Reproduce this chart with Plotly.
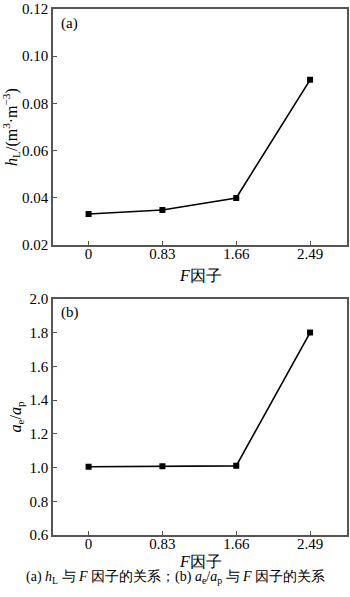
import plotly.graph_objects as go

f_factor = [0, 0.83, 1.66, 2.49]
f_ticks = ["0", "0.83", "1.66", "2.49"]
h_L = [0.0332, 0.0349, 0.0400, 0.0900]
ae_ap = [1.005, 1.008, 1.010, 1.800]

SERIF = "Liberation Serif"
CJK = "Liberation Serif"
FRAME = "#555555"
X_RANGE = [-0.4, 2.905]
PLOT_H = 530.0

fig = go.Figure()
fig.add_trace(go.Scatter(x=f_factor, y=h_L, mode="lines+markers",
                         line=dict(color="black", width=1.6),
                         marker=dict(symbol="square", size=6, color="black"),
                         xaxis="x", yaxis="y", showlegend=False))
fig.add_trace(go.Scatter(x=f_factor, y=ae_ap, mode="lines+markers",
                         line=dict(color="black", width=1.6),
                         marker=dict(symbol="square", size=6, color="black"),
                         xaxis="x2", yaxis="y2", showlegend=False))
# invisible carriers so the tick-label axes are drawn
fig.add_trace(go.Scatter(x=f_factor, y=h_L, mode="markers", marker=dict(opacity=0),
                         hoverinfo="skip", xaxis="x3", yaxis="y", showlegend=False))
fig.add_trace(go.Scatter(x=f_factor, y=ae_ap, mode="markers", marker=dict(opacity=0),
                         hoverinfo="skip", xaxis="x4", yaxis="y2", showlegend=False))

common_x = dict(range=X_RANGE, tickvals=f_factor, ticktext=f_ticks,
                ticks="inside", ticklen=4, tickcolor=FRAME, tickwidth=1,
                showline=True, linecolor=FRAME, linewidth=1.5, mirror=True,
                showgrid=False, zeroline=False, showticklabels=False)
label_x = dict(range=X_RANGE, tickvals=f_factor, ticktext=f_ticks, ticks="",
               showline=False, showgrid=False, zeroline=False, anchor="free",
               tickfont=dict(family=SERIF, size=15, color="black"))
common_y = dict(ticks="inside", ticklen=4, tickcolor=FRAME, tickwidth=1,
                showline=True, linecolor=FRAME, linewidth=1.5, mirror=True,
                showgrid=False, zeroline=False,
                tickfont=dict(family=SERIF, size=15, color="black"))

fig.update_layout(
    width=350, height=597,
    margin=dict(l=53, r=1, t=5, b=62),
    paper_bgcolor="white", plot_bgcolor="white",
    xaxis=dict(common_x, anchor="y"),
    yaxis=dict(common_y, domain=[0.551, 1.0], range=[0.02, 0.12],
               tickvals=[0.02, 0.04, 0.06, 0.08, 0.10, 0.12],
               ticktext=["0.02", "0.04", "0.06", "0.08", "0.10", "0.12"],
               title=dict(text="<i>h</i><sub>L</sub>/(m<sup>3</sup>·m<sup>−3</sup>)",
                          font=dict(family=SERIF, size=16, color="black"), standoff=4)),
    xaxis2=dict(common_x, anchor="y2"),
    yaxis2=dict(common_y, domain=[0.0, 0.449], range=[0.6, 2.0],
                tickvals=[0.6, 0.8, 1.0, 1.2, 1.4, 1.6, 1.8, 2.0],
                ticktext=["0.6", "0.8", "1.0", "1.2", "1.4", "1.6", "1.8", "2.0"],
                title=dict(text="<i>a</i><sub>e</sub>/<i>a</i><sub>p</sub>",
                           font=dict(family=SERIF, size=16, color="black"), standoff=4)),
    xaxis3=dict(label_x, overlaying="x", position=0.551 + 2 / PLOT_H),
    xaxis4=dict(label_x, overlaying="x2", position=0.0 + 2 / PLOT_H),
    annotations=[
        dict(text="(a)", xref="x domain", yref="y domain", x=0.02, y=0.985,
             xanchor="left", yanchor="top", showarrow=False,
             font=dict(family=SERIF, size=15, color="black")),
        dict(text="(b)", xref="x2 domain", yref="y2 domain", x=0.02, y=0.985,
             xanchor="left", yanchor="top", showarrow=False,
             font=dict(family=SERIF, size=15, color="black")),
        dict(text="<i>F</i>因子", xref="x domain", yref="paper", x=0.5, y=0.494,
             xanchor="center", yanchor="middle", showarrow=False,
             font=dict(family=CJK, size=16, color="black")),
        dict(text="<i>F</i>因子", xref="x2 domain", yref="paper", x=0.5, y=-0.051,
             xanchor="center", yanchor="middle", showarrow=False,
             font=dict(family=CJK, size=16, color="black")),
        dict(text="(a) <i>h</i><sub>L</sub> 与 <i>F</i> 因子的关系；(b) <i>a</i><sub>e</sub>/<i>a</i><sub>p</sub> 与 <i>F</i> 因子的关系",
             xref="paper", yref="paper", x=0.415, y=-0.08, xanchor="center", yanchor="middle",
             showarrow=False, font=dict(family=CJK, size=14, color="black")),
    ],
)

fig.write_html("out.html")
